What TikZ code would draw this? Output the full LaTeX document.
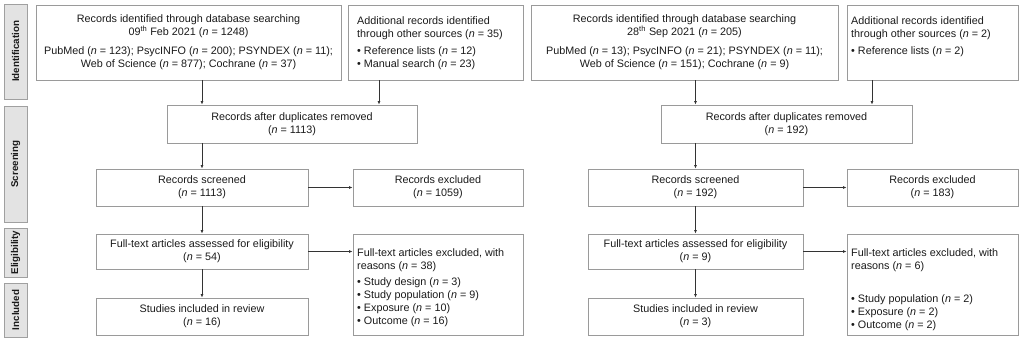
\documentclass[tikz,border=0pt]{standalone}
\usepackage{fontspec}
\setmainfont{Liberation Sans}
\usetikzlibrary{arrows.meta}
\definecolor{boxgray}{HTML}{9A9A9A}
\definecolor{lblfill}{HTML}{E3E3E3}
\definecolor{lblline}{HTML}{A0A0A0}
\definecolor{arrgray}{HTML}{333333}
\definecolor{txtcol}{HTML}{1A1A1A}
\newcommand\diagfont{\fontsize{10.8}{13}\selectfont}
\newcommand\nn{\textit{n}}
\newcommand\thsup{\smash{\textsuperscript{th}}}
\begin{document}
\begin{tikzpicture}[x=1pt,y=-1pt,
  box/.style={draw=boxgray,line width=0.9pt,inner sep=0pt,align=center,font=\diagfont,text=txtcol},
  txt/.style={inner sep=0pt,align=left,font=\diagfont,text=txtcol},
  lbl/.style={draw=lblline,fill=lblfill,line width=0.9pt,inner sep=0pt,minimum width=23pt,font=\fontsize{9.8}{11}\selectfont\bfseries,text=txtcol},
  arr/.style={draw=arrgray,line width=0.7pt,-{Latex[length=3.5pt,width=3pt]}}
]
\useasboundingbox (0,0) rectangle (1021,345);

% side labels
\node[lbl,minimum height=95pt]  (L1) at (15.5,51.5) {\rotatebox{90}{Identification}};
\node[lbl,minimum height=116pt] (L2) at (15.5,164)  {\rotatebox{90}{Screening}};
\node[lbl,minimum height=49pt]  (L3) at (15.5,252.5){\rotatebox{90}{Eligibility}};
\node[lbl,minimum height=54pt]  (L4) at (15.5,310)  {\rotatebox{90}{Included}};

% ---------- left panel ----------
\node[box,minimum width=305pt,minimum height=75pt] (id1) at (188.5,42.5)
  {Records identified through database searching\\
   09\thsup{} Feb 2021 (\nn{} = 1248)\\[6pt]
   PubMed (\nn{} = 123); PsycINFO (\nn{} = 200); PSYNDEX (\nn{} = 11);\\
   Web of Science (\nn{} = 877); Cochrane (\nn{} = 37)};
\node[box,minimum width=175pt,minimum height=75pt] (add1) at (435.5,42.5) {};
\node[txt,anchor=north west] (add1t) at (357,16)
  {Additional records identified\\
   through other sources (\nn{} = 35)\\[4pt]
   • Reference lists (\nn{} = 12)\\
   • Manual search (\nn{} = 23)};
\node[box,minimum width=250pt,minimum height=38pt] (dup1) at (292,124)
  {Records after duplicates removed\\(\nn{} = 1113)};
\node[box,minimum width=212pt,minimum height=37pt] (scr1) at (202,187.5)
  {Records screened\\(\nn{} = 1113)};
\node[box,minimum width=170pt,minimum height=37pt] (exc1) at (438,187.5)
  {Records excluded\\(\nn{} = 1059)};
\node[box,minimum width=212pt,minimum height=35pt] (ft1) at (202,251.5)
  {Full-text articles assessed for eligibility\\(\nn{} = 54)};
\node[box,minimum width=170pt,minimum height=101pt] (fte1) at (438,284.5) {};
\node[txt,anchor=north west] (fte1t) at (357,248)
  {Full-text articles excluded, with\\
   reasons (\nn{} = 38)\\[3pt]
   • Study design (\nn{} = 3)\\
   • Study population (\nn{} = 9)\\
   • Exposure (\nn{} = 10)\\
   • Outcome (\nn{} = 16)};
\node[box,minimum width=212pt,minimum height=37pt] (inc1) at (202,316.5)
  {Studies included in review\\(\nn{} = 16)};

\coordinate (a1) at (379,0);
\draw[arr] (id1.south -| scr1) -- (dup1.north -| scr1);
\draw[arr] (add1.south -| a1) -- (dup1.north -| a1);
\draw[arr] (dup1.south -| scr1) -- (scr1.north);
\draw[arr] (scr1.east) -- (exc1.west);
\draw[arr] (scr1.south) -- (ft1.north);
\draw[arr] (ft1.east) -- (fte1.west |- ft1.east);
\draw[arr] (ft1.south) -- (inc1.north);

% ---------- right panel ----------
\node[box,minimum width=307pt,minimum height=75pt] (id2) at (684.5,42.5)
  {Records identified through database searching\\
   28\thsup{} Sep 2021 (\nn{} = 205)\\[6pt]
   PubMed (\nn{} = 13); PsycINFO (\nn{} = 21); PSYNDEX (\nn{} = 11);\\
   Web of Science (\nn{} = 151); Cochrane (\nn{} = 9)};
\node[box,minimum width=171pt,minimum height=75pt] (add2) at (932.5,42.5) {};
\node[txt,anchor=north west] (add2t) at (851,16)
  {Additional records identified\\
   through other sources (\nn{} = 2)\\[4pt]
   • Reference lists (\nn{} = 2)};
\node[box,minimum width=251pt,minimum height=38pt] (dup2) at (786.5,124)
  {Records after duplicates removed\\(\nn{} = 192)};
\node[box,minimum width=215pt,minimum height=37pt] (scr2) at (695.5,187.5)
  {Records screened\\(\nn{} = 192)};
\node[box,minimum width=171pt,minimum height=37pt] (exc2) at (932.5,187.5)
  {Records excluded\\(\nn{} = 183)};
\node[box,minimum width=215pt,minimum height=35pt] (ft2) at (695.5,251.5)
  {Full-text articles assessed for eligibility\\(\nn{} = 9)};
\node[box,minimum width=171pt,minimum height=101pt] (fte2) at (932.5,284.5) {};
\node[txt,anchor=north west] (fte2t) at (851,248)
  {Full-text articles excluded, with\\
   reasons (\nn{} = 6)\\[20pt]
   • Study population (\nn{} = 2)\\
   • Exposure (\nn{} = 2)\\
   • Outcome (\nn{} = 2)};
\node[box,minimum width=215pt,minimum height=37pt] (inc2) at (695.5,316.5)
  {Studies included in review\\(\nn{} = 3)};

\coordinate (a2) at (872,0);
\draw[arr] (id2.south -| scr2) -- (dup2.north -| scr2);
\draw[arr] (add2.south -| a2) -- (dup2.north -| a2);
\draw[arr] (dup2.south -| scr2) -- (scr2.north);
\draw[arr] (scr2.east) -- (exc2.west);
\draw[arr] (scr2.south) -- (ft2.north);
\draw[arr] (ft2.east) -- (fte2.west |- ft2.east);
\draw[arr] (ft2.south) -- (inc2.north);
\end{tikzpicture}
\end{document}
